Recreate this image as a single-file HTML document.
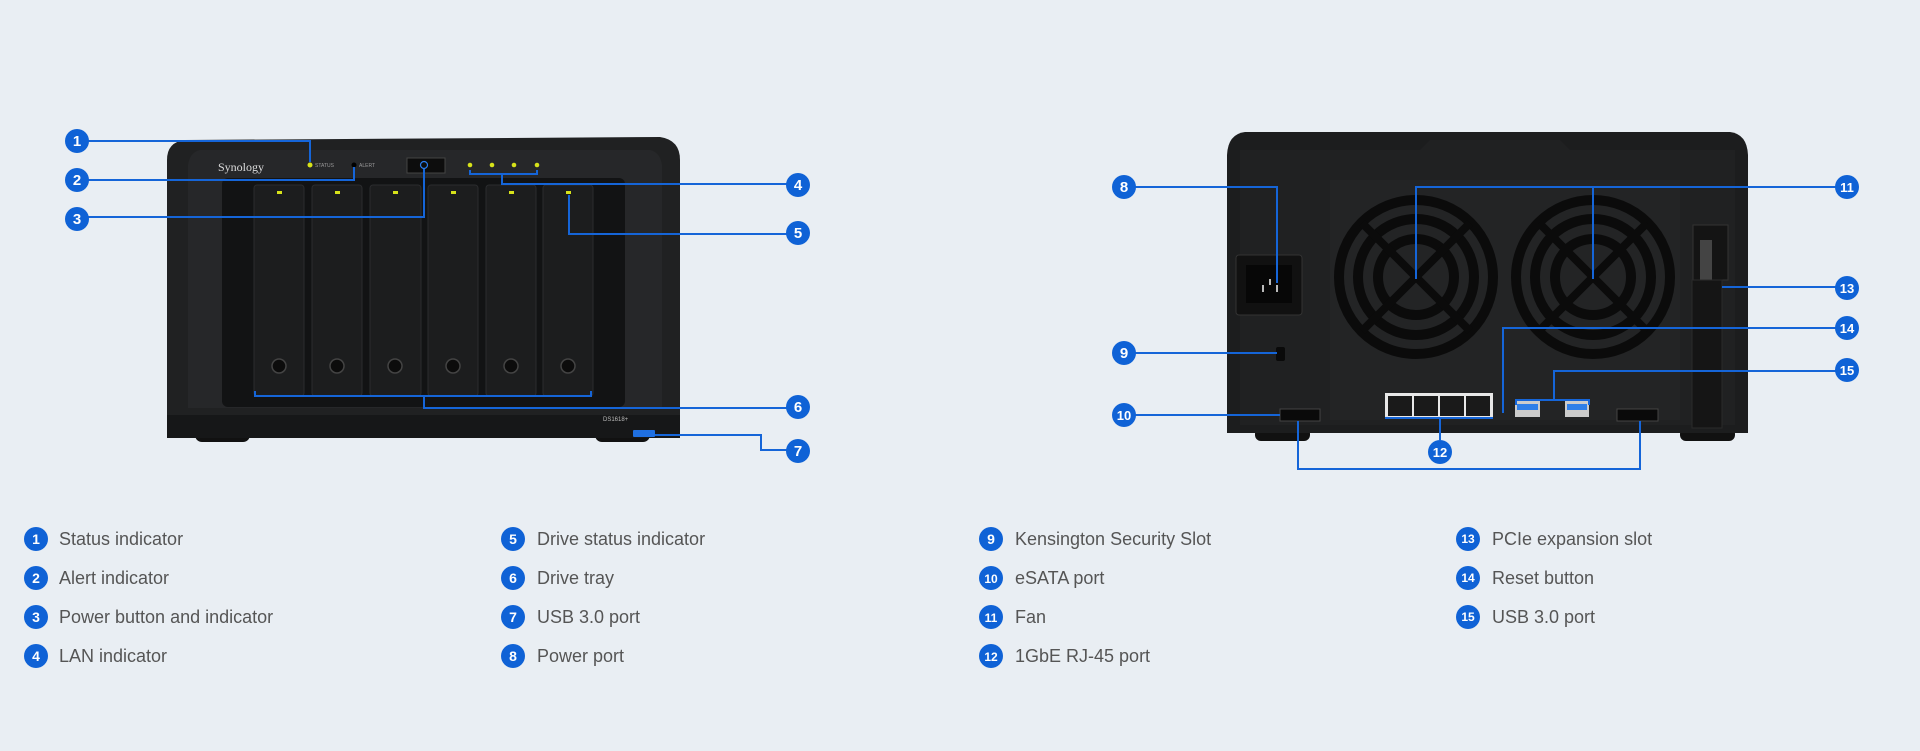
<!DOCTYPE html>
<html><head><meta charset="utf-8"><style>
html,body{margin:0;padding:0;background:#e9eef3;}
body{width:1920px;height:751px;overflow:hidden;position:relative;font-family:"Liberation Sans",sans-serif;}
svg{position:absolute;left:0;top:0}
</style></head><body>
<svg width="1920" height="751" viewBox="0 0 1920 751" xmlns="http://www.w3.org/2000/svg">
<rect width="1920" height="751" fill="#e9eef3"/>
<!-- FRONT DEVICE -->
<g>
<rect x="195" y="426" width="55" height="16" rx="7" fill="#111"/>
<rect x="595" y="426" width="55" height="16" rx="7" fill="#111"/>
<path d="M185 140 L660 137 Q680 140 680 160 L680 438 L167 438 L167 160 Q167 142 185 140 Z" fill="#202122"/>
<rect x="167" y="415" width="513" height="23" fill="#161718"/>
<path d="M200 150 L650 150 Q660 152 662 165 L662 408 L188 408 L188 165 Q190 152 200 150Z" fill="#262729"/>
<rect x="222" y="178" width="403" height="229" rx="6" fill="#121314"/>
<g fill="#1c1d1e" stroke="#2b2c2e" stroke-width="1">
<rect x="254" y="185" width="50" height="211" rx="3"/>
<rect x="312" y="185" width="50" height="211" rx="3"/>
<rect x="370" y="185" width="51" height="211" rx="3"/>
<rect x="428" y="185" width="50" height="211" rx="3"/>
<rect x="486" y="185" width="50" height="211" rx="3"/>
<rect x="543" y="185" width="50" height="211" rx="3"/>
</g>
<g fill="#d7e21a">
<rect x="277" y="191" width="5" height="3"/><rect x="335" y="191" width="5" height="3"/><rect x="393" y="191" width="5" height="3"/><rect x="451" y="191" width="5" height="3"/><rect x="509" y="191" width="5" height="3"/><rect x="566" y="191" width="5" height="3"/>
</g>
<g fill="#0c0c0c" stroke="#444" stroke-width="1.5">
<circle cx="279" cy="366" r="7"/><circle cx="337" cy="366" r="7"/><circle cx="395" cy="366" r="7"/><circle cx="453" cy="366" r="7"/><circle cx="511" cy="366" r="7"/><circle cx="568" cy="366" r="7"/>
</g>
<text x="218" y="171" font-size="12" fill="#ddd" font-family="Liberation Serif,serif">Synology</text>
<circle cx="310" cy="165" r="2.5" fill="#d7e21a"/><text x="315" y="167" font-size="5" fill="#999">STATUS</text>
<circle cx="354" cy="165" r="2.5" fill="#000"/><text x="359" y="167" font-size="5" fill="#999">ALERT</text>
<rect x="407" y="158" width="38" height="15" fill="#0d0d0d" stroke="#444"/>
<circle cx="424" cy="165" r="3.5" fill="none" stroke="#2a7df0" stroke-width="1.2"/>
<g fill="#d7e21a"><circle cx="470" cy="165" r="2.3"/><circle cx="492" cy="165" r="2.3"/><circle cx="514" cy="165" r="2.3"/><circle cx="537" cy="165" r="2.3"/></g>
<text x="603" y="421" font-size="6" fill="#bbb">DS1618+</text>
<rect x="633" y="430" width="22" height="7" rx="1" fill="#1f6fe0"/>
</g>
<!-- BACK DEVICE -->
<g>
<rect x="1255" y="428" width="55" height="13" rx="6" fill="#111"/>
<rect x="1680" y="428" width="55" height="13" rx="6" fill="#111"/>
<path d="M1245 132 L1730 132 Q1747 134 1748 155 L1748 433 L1227 433 L1227 155 Q1228 134 1245 132Z" fill="#1c1d1e"/>
<path d="M1240 150 L1420 150 L1430 140 L1560 140 L1570 150 L1735 150 L1735 425 L1240 425Z" fill="#202122"/>
<rect x="1330" y="180" width="350" height="240" fill="#232425"/>
<g fill="none" stroke="#0b0b0b" stroke-width="10">
<circle cx="1416" cy="277" r="77"/><circle cx="1416" cy="277" r="58"/><circle cx="1416" cy="277" r="38"/>
<circle cx="1593" cy="277" r="77"/><circle cx="1593" cy="277" r="58"/><circle cx="1593" cy="277" r="38"/>
</g>
<g stroke="#0b0b0b" stroke-width="8"><line x1="1362" y1="223" x2="1470" y2="331"/><line x1="1470" y1="223" x2="1362" y2="331"/><line x1="1539" y1="223" x2="1647" y2="331"/><line x1="1647" y1="223" x2="1539" y2="331"/></g>
<rect x="1236" y="255" width="66" height="60" rx="3" fill="#111" stroke="#333"/>
<rect x="1246" y="265" width="46" height="38" fill="#070707"/>
<rect x="1262" y="285" width="2" height="7" fill="#bbb"/><rect x="1276" y="285" width="2" height="7" fill="#bbb"/><rect x="1269" y="279" width="2" height="6" fill="#bbb"/>
<rect x="1276" y="347" width="9" height="14" rx="2" fill="#0a0a0a"/>
<rect x="1693" y="225" width="35" height="55" fill="#141414" stroke="#333"/>
<rect x="1700" y="240" width="12" height="40" fill="#444"/>
<rect x="1692" y="280" width="30" height="148" fill="#151515" stroke="#2a2a2a"/>
<rect x="1385" y="393" width="108" height="25" fill="#e8e8e8"/>
<g fill="#1a1a1a"><rect x="1388" y="396" width="24" height="20"/><rect x="1414" y="396" width="24" height="20"/><rect x="1440" y="396" width="24" height="20"/><rect x="1466" y="396" width="24" height="20"/></g>
<rect x="1515" y="401" width="25" height="16" fill="#ccc"/><rect x="1517" y="404" width="21" height="6" fill="#2f7fe8"/>
<rect x="1565" y="401" width="24" height="16" fill="#ccc"/><rect x="1567" y="404" width="20" height="6" fill="#2f7fe8"/>
<rect x="1280" y="409" width="40" height="12" fill="#0a0a0a" stroke="#444"/>
<rect x="1617" y="409" width="41" height="12" fill="#0a0a0a" stroke="#444"/>
</g>
<!-- CALLOUT LINES -->
<g fill="none" stroke="#1565d8" stroke-width="2">
<polyline points="77,141 310,141 310,162"/>
<polyline points="77,180 354,180 354,167"/>
<polyline points="77,217 424,217 424,169"/>
<polyline points="470,170 470,174 537,174 537,170"/><polyline points="502,174 502,184 798,184"/>
<polyline points="569,195 569,234 798,234"/>
<polyline points="255,391 255,396 591,396 591,391"/><polyline points="424,396 424,408 798,408"/>
<polyline points="655,435 761,435 761,450 798,450"/>
<polyline points="1124,187 1277,187 1277,283"/>
<polyline points="1124,353 1277,353"/>
<polyline points="1124,415 1280,415"/>
<polyline points="1298,421 1298,469 1640,469 1640,421"/>
<polyline points="1847,187 1416,187 1416,279"/><polyline points="1593,187 1593,279"/>
<polyline points="1847,287 1722,287"/>
<polyline points="1847,328 1503,328 1503,413"/>
<polyline points="1847,371 1554,371 1554,400"/><polyline points="1516,405 1516,400 1589,400 1589,405"/>
<polyline points="1385,418 1493,418"/><polyline points="1440,418 1440,440"/>
</g>
<!-- BADGES -->
<g font-size="15" font-weight="bold" fill="#fff" text-anchor="middle">
<g fill="#0f62d6">
<circle cx="77" cy="141" r="12"/><circle cx="77" cy="180" r="12"/><circle cx="77" cy="219" r="12"/>
<circle cx="798" cy="185" r="12"/><circle cx="798" cy="233" r="12"/><circle cx="798" cy="407" r="12"/><circle cx="798" cy="451" r="12"/>
<circle cx="1124" cy="187" r="12"/><circle cx="1124" cy="353" r="12"/><circle cx="1124" cy="415" r="12"/>
<circle cx="1847" cy="187" r="12"/><circle cx="1847" cy="288" r="12"/><circle cx="1847" cy="328" r="12"/><circle cx="1847" cy="370" r="12"/>
<circle cx="1440" cy="452" r="12"/>
</g>
<text x="77" y="146">1</text><text x="77" y="185">2</text><text x="77" y="224">3</text>
<text x="798" y="190">4</text><text x="798" y="238">5</text><text x="798" y="412">6</text><text x="798" y="456">7</text>
<text x="1124" y="192">8</text><text x="1124" y="358">9</text><text x="1124" y="420" font-size="13">10</text>
<text x="1847" y="192" font-size="13">11</text><text x="1847" y="293" font-size="13">13</text><text x="1847" y="333" font-size="13">14</text><text x="1847" y="375" font-size="13">15</text>
<text x="1440" y="457" font-size="13">12</text>
</g>
<!-- LEGEND -->
<g fill="#0f62d6">
<circle cx="36" cy="539" r="12"/><circle cx="36" cy="578" r="12"/><circle cx="36" cy="617" r="12"/><circle cx="36" cy="656" r="12"/>
<circle cx="513" cy="539" r="12"/><circle cx="513" cy="578" r="12"/><circle cx="513" cy="617" r="12"/><circle cx="513" cy="656" r="12"/>
<circle cx="991" cy="539" r="12"/><circle cx="991" cy="578" r="12"/><circle cx="991" cy="617" r="12"/><circle cx="991" cy="656" r="12"/>
<circle cx="1468" cy="539" r="12"/><circle cx="1468" cy="578" r="12"/><circle cx="1468" cy="617" r="12"/>
</g>
<g font-size="14" font-weight="bold" fill="#fff" text-anchor="middle">
<text x="36" y="544">1</text><text x="36" y="583">2</text><text x="36" y="622">3</text><text x="36" y="661">4</text>
<text x="513" y="544">5</text><text x="513" y="583">6</text><text x="513" y="622">7</text><text x="513" y="661">8</text>
<text x="991" y="544">9</text><text x="991" y="583" font-size="12">10</text><text x="991" y="622" font-size="12">11</text><text x="991" y="661" font-size="12">12</text>
<text x="1468" y="543" font-size="12">13</text><text x="1468" y="582" font-size="12">14</text><text x="1468" y="621" font-size="12">15</text>
</g>
<g font-size="18" fill="#555">
<text x="59" y="545">Status indicator</text><text x="59" y="584">Alert indicator</text><text x="59" y="623">Power button and indicator</text><text x="59" y="662">LAN indicator</text>
<text x="537" y="545">Drive status indicator</text><text x="537" y="584">Drive tray</text><text x="537" y="623">USB 3.0 port</text><text x="537" y="662">Power port</text>
<text x="1015" y="545">Kensington Security Slot</text><text x="1015" y="584">eSATA port</text><text x="1015" y="623">Fan</text><text x="1015" y="662">1GbE RJ-45 port</text>
<text x="1492" y="545">PCIe expansion slot</text><text x="1492" y="584">Reset button</text><text x="1492" y="623">USB 3.0 port</text>
</g>
</svg>
</body></html>
